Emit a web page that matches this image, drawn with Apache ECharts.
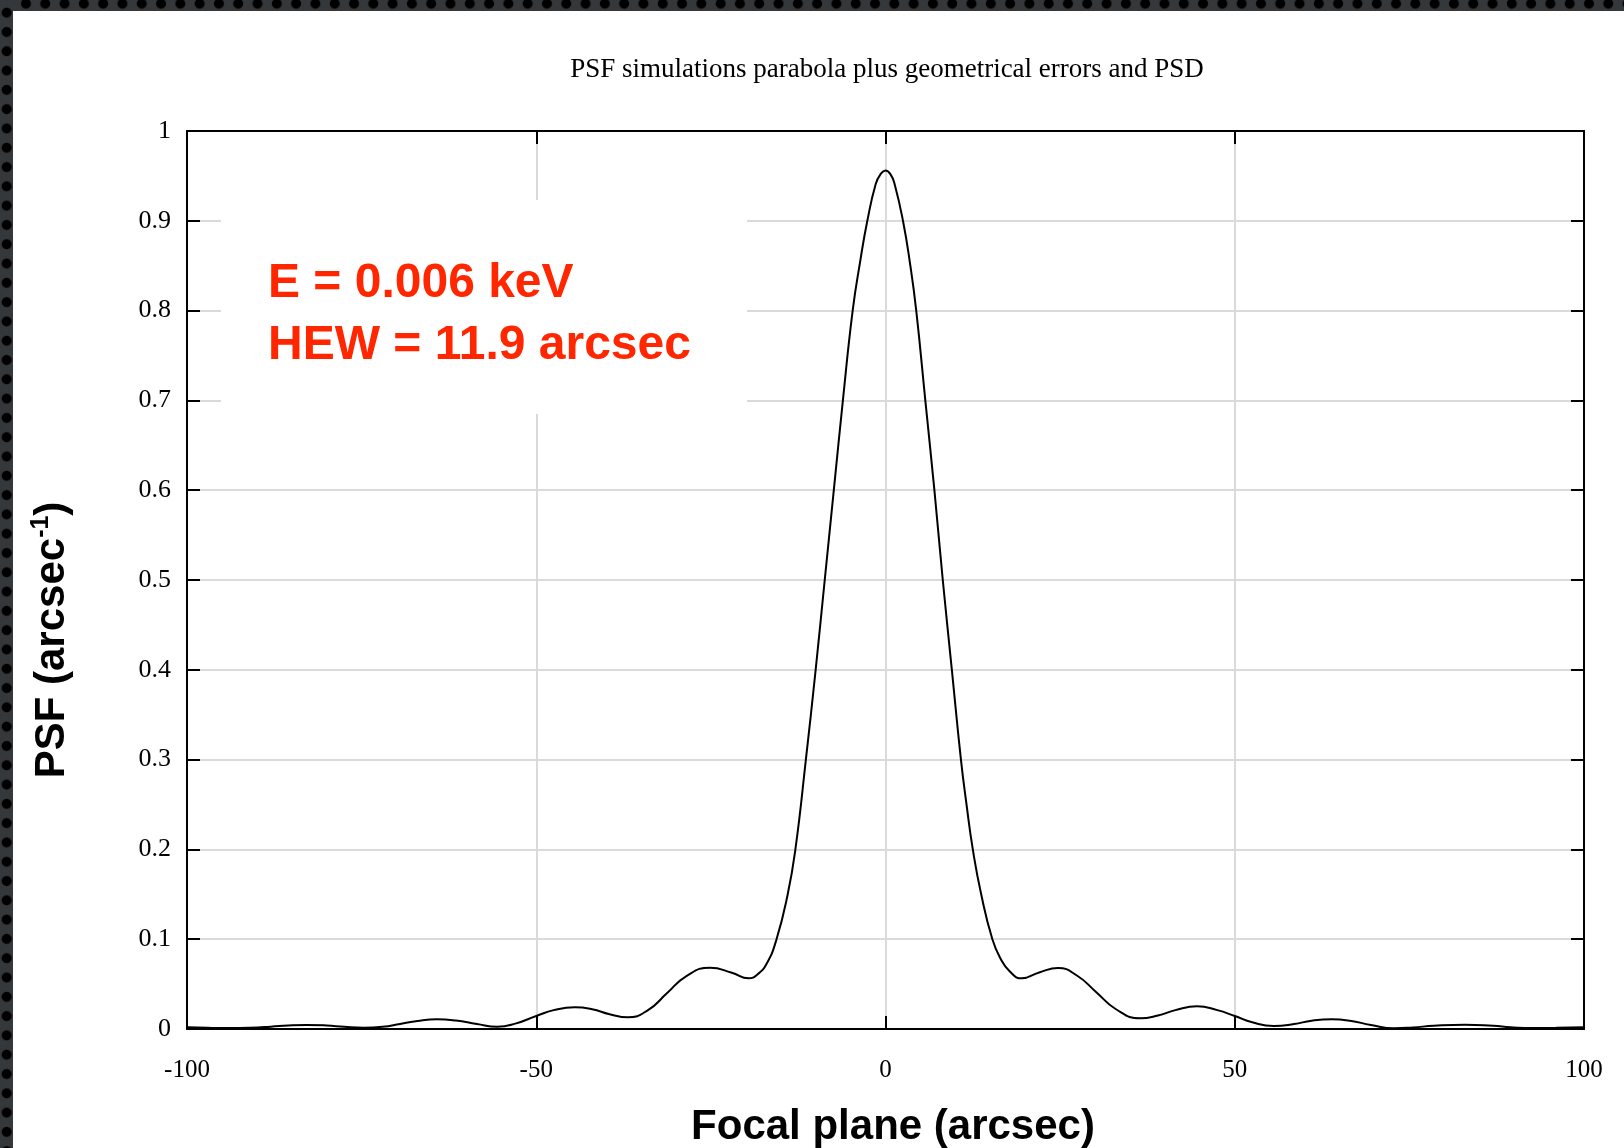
<!DOCTYPE html>
<html>
<head>
<meta charset="utf-8">
<script src="https://cdn.jsdelivr.net/npm/echarts@6/dist/echarts.min.js"></script>
<style>
  html, body { margin: 0; padding: 0; background: #ffffff; }
  #frameTop, #frameLeft {
    position: absolute; left: 0; top: 0;
    background-color: #35383b;
    background-image: radial-gradient(circle, #000 4.5px, rgba(0,0,0,0) 5.5px);
    background-size: 19.3px 19.3px;
  }
  #frameTop { width: 1624px; height: 11px; background-position: -3px -6px; }
  #frameLeft { width: 13px; height: 1148px; background-position: -3px 3px; }
  #chart { position: absolute; left: 0; top: 0; width: 1624px; height: 1148px; }
</style>
</head>
<body>
<div id="frameTop"></div>
<div id="frameLeft"></div>
<div id="chart"></div>
<script>
// ---- data (focal plane position in arcsec, PSF value) ----
const focalPlane = [
  -100, -97, -93.8, -91, -88, -85.5, -82.9, -80, -77.5, -74.7, -72, -69.5, -67, -64.2, -61.5, -58.5, -55.6, -53,
  -50, -47.5, -44.5, -42, -39.5, -36.9, -34, -31.3, -28.5, -25.1, -22, -19.6, -18.3, -17,
  -15.6, -14.0, -12.9, -11.4, -10.0, -8.7, -7.4, -6.1, -4.7, -3.6, -2.6, -1.4, -0.7, 0, 0.7, 1.3, 2.5, 3.5, 4.4, 5.7, 7.0, 8.2, 9.5, 10.8,
  11.6, 12.5, 13.7, 15.3, 16.5, 17.8, 19.5, 22, 24.7, 27.5, 30.1, 33, 36.5, 39, 41.5, 44.6, 47.5,
  50, 52.5, 55.6, 58.5, 61, 63.9, 66.5, 69.5, 72.8, 75.5, 78.5, 83.0, 87, 89.5, 92.6, 96, 100];
const psfValues = [
  0.002, 0.0013, 0.001, 0.0014, 0.0026, 0.0039, 0.0045, 0.0039, 0.0025, 0.0015, 0.0025, 0.0056, 0.009, 0.0108, 0.0094, 0.0056, 0.0026, 0.006,
  0.0145, 0.021, 0.0241, 0.022, 0.0165, 0.013, 0.021, 0.0397, 0.059, 0.0683, 0.0627, 0.0564, 0.061, 0.073,
  0.1, 0.15, 0.2, 0.3, 0.4, 0.5, 0.6, 0.7, 0.8, 0.856, 0.9, 0.941, 0.952, 0.956, 0.952, 0.941, 0.9, 0.853, 0.8, 0.7, 0.6, 0.5, 0.4, 0.3,
  0.25, 0.2, 0.15, 0.1, 0.078, 0.064, 0.0564, 0.063, 0.068, 0.059, 0.0416, 0.022, 0.0119, 0.015, 0.021, 0.0252, 0.021,
  0.0145, 0.0075, 0.0033, 0.0055, 0.0092, 0.0108, 0.0092, 0.0045, 0.0008, 0.0017, 0.0036, 0.0048, 0.0035, 0.002, 0.001, 0.0013, 0.002];
const xTickLabels = ['-100', '-50', '0', '50', '100'];
const yTickLabels = ['0', '0.1', '0.2', '0.3', '0.4', '0.5', '0.6', '0.7', '0.8', '0.9', '1'];
const titleText = 'PSF simulations parabola plus geometrical errors and PSD';
const annotationLines = ['E = 0.006 keV', 'HEW = 11.9 arcsec'];

const xMin = -100, xMax = 100, xStep = 50;
const yMin = 0, yMax = 1, yStep = 0.1;

const serif = '"Liberation Serif", "DejaVu Serif", serif';
const sans = '"Liberation Sans", Arial, sans-serif';

const axisLineStyle = { show: true, onZero: false, lineStyle: { color: '#000', width: 2 } };
const tickStyle = { show: true, inside: true, length: 13, lineStyle: { color: '#000', width: 2 } };
const gridLine = { show: true, lineStyle: { color: '#dadada', width: 2 } };

const chart = echarts.init(document.getElementById('chart'), null, { renderer: 'canvas' });
chart.setOption({
  animation: false,
  backgroundColor: 'transparent',
  title: {
    text: titleText,
    left: 882, top: 51, textAlign: 'center',
    textStyle: { fontFamily: serif, fontSize: 27, fontWeight: 'normal', color: '#000' }
  },
  grid: { left: 187, right: 40, top: 131, bottom: 119, containLabel: false, outerBoundsMode: 'none' },
  xAxis: [
    {
      type: 'value', position: 'bottom', min: xMin, max: xMax, interval: xStep,
      axisLine: axisLineStyle, axisTick: tickStyle, splitLine: gridLine,
      axisLabel: {
        margin: 29, fontFamily: serif, fontSize: 25, color: '#000',
        formatter: v => xTickLabels[Math.round((v - xMin) / xStep)]
      },
      name: 'Focal plane (arcsec)', nameLocation: 'middle', nameGap: 77,
      nameTextStyle: { fontFamily: sans, fontSize: 42, fontWeight: 'bold', color: '#000', padding: [0, 0, 0, 15] }
    },
    {
      type: 'value', position: 'top', min: xMin, max: xMax, interval: xStep,
      axisLine: axisLineStyle, axisTick: tickStyle, splitLine: { show: false }, axisLabel: { show: false }
    }
  ],
  yAxis: [
    {
      type: 'value', position: 'left', min: yMin, max: yMax, interval: yStep,
      axisLine: axisLineStyle, axisTick: tickStyle, splitLine: gridLine,
      axisLabel: {
        margin: 16, fontFamily: serif, fontSize: 26, color: '#000',
        formatter: v => yTickLabels[Math.round((v - yMin) / yStep)]
      },
      name: '{a|PSF (arcsec}{s|-1}{a|)}', nameLocation: 'middle', nameGap: 111,
      nameTextStyle: {
        padding: [0, 120, 0, 0],
        rich: {
          a: { fontFamily: sans, fontSize: 42, fontWeight: 'bold', color: '#000' },
          s: { fontFamily: sans, fontSize: 25, fontWeight: 'bold', color: '#000', padding: [0, 0, 22, 0] }
        }
      }
    },
    {
      type: 'value', position: 'right', min: yMin, max: yMax, interval: yStep,
      axisLine: axisLineStyle, axisTick: tickStyle, splitLine: { show: false }, axisLabel: { show: false }
    }
  ],
  graphic: [
    { type: 'rect', z: 1, silent: true, shape: { x: 221, y: 200, width: 526, height: 214 }, style: { fill: '#ffffff' } },
    {
      type: 'text', z: 10, silent: true, x: 268, y: 253,
      style: {
        text: annotationLines.join('\n'), fill: '#ff2600',
        font: 'bold 48px "Liberation Sans", Arial, sans-serif', lineHeight: 62,
        textAlign: 'left', textVerticalAlign: 'top'
      }
    }
  ],
  series: [{
    type: 'line',
    xAxisIndex: 0, yAxisIndex: 0,
    data: focalPlane.map((x, i) => [x, psfValues[i]]),
    showSymbol: false, symbol: 'none',
    smooth: 0.5,
    lineStyle: { color: '#000', width: 2 },
    z: 3
  }]
});
</script>
</body>
</html>
